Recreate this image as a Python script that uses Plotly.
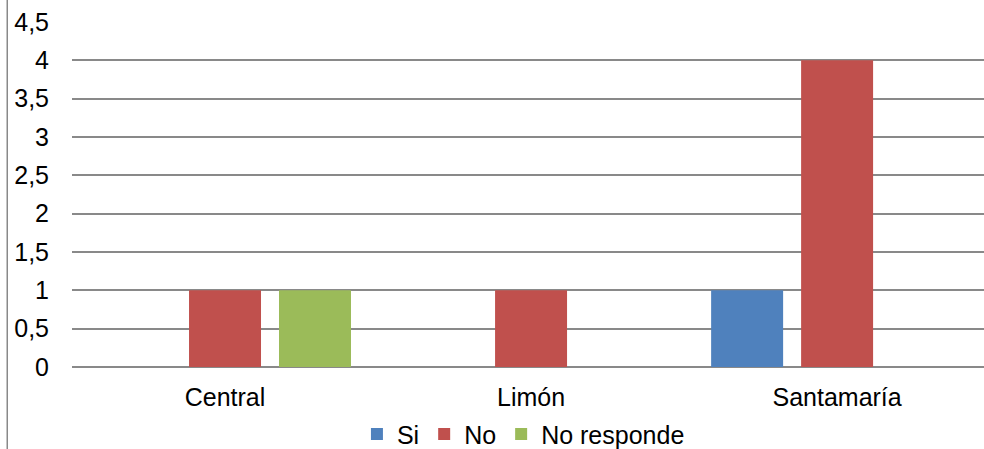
import plotly.graph_objects as go

categories = ["Central", "Limón", "Santamaría"]
si = [0, 0, 1]
no = [1, 1, 4]
no_responde = [1, 0, 0]

y_ticks = [0, 0.5, 1, 1.5, 2, 2.5, 3, 3.5, 4, 4.5]
y_tick_labels = ["0", "0,5", "1", "1,5", "2", "2,5", "3", "3,5", "4", "4,5"]

font = dict(family="Liberation Sans, Arial, sans-serif", size=25, color="#000000")

fig = go.Figure()
for name, vals, color in [
    ("Si", si, "#4F81BD"),
    ("No", no, "#C0504D"),
    ("No responde", no_responde, "#9BBB59"),
]:
    fig.add_trace(go.Bar(
        x=categories, y=vals, name=name,
        marker=dict(color=color, line=dict(width=0)),
    ))

fig.update_layout(
    width=984, height=449,
    margin=dict(l=72, r=0, t=22, b=82, autoexpand=False),
    paper_bgcolor="white", plot_bgcolor="white",
    font=font,
    barmode="group", bargap=0.118, bargroupgap=0.2,
    showlegend=True,
    legend=dict(orientation="h", x=0.495, xanchor="center", y=-0.195, yanchor="middle",
                font=dict(size=25), itemwidth=30, tracegroupgap=0),
    xaxis=dict(range=[-0.5, 2.48], showgrid=False, showline=False, ticks="",
               tickfont=font, zeroline=False, ticklabelstandoff=13, automargin=False),
    yaxis=dict(range=[0, 4.5], tickvals=y_ticks, ticktext=y_tick_labels,
               showgrid=True, gridcolor="#898989", gridwidth=1.5,
               zeroline=True, zerolinecolor="#898989", zerolinewidth=1.5,
               showline=False, ticks="", ticklabelstandoff=22, tickfont=font,
               automargin=False),
    shapes=[dict(type="line", xref="paper", yref="paper",
                 x0=-0.071, x1=-0.071, y0=-0.3, y1=1.1,
                 line=dict(color="#898989", width=1.5))],
)

fig.write_html("out.html")
